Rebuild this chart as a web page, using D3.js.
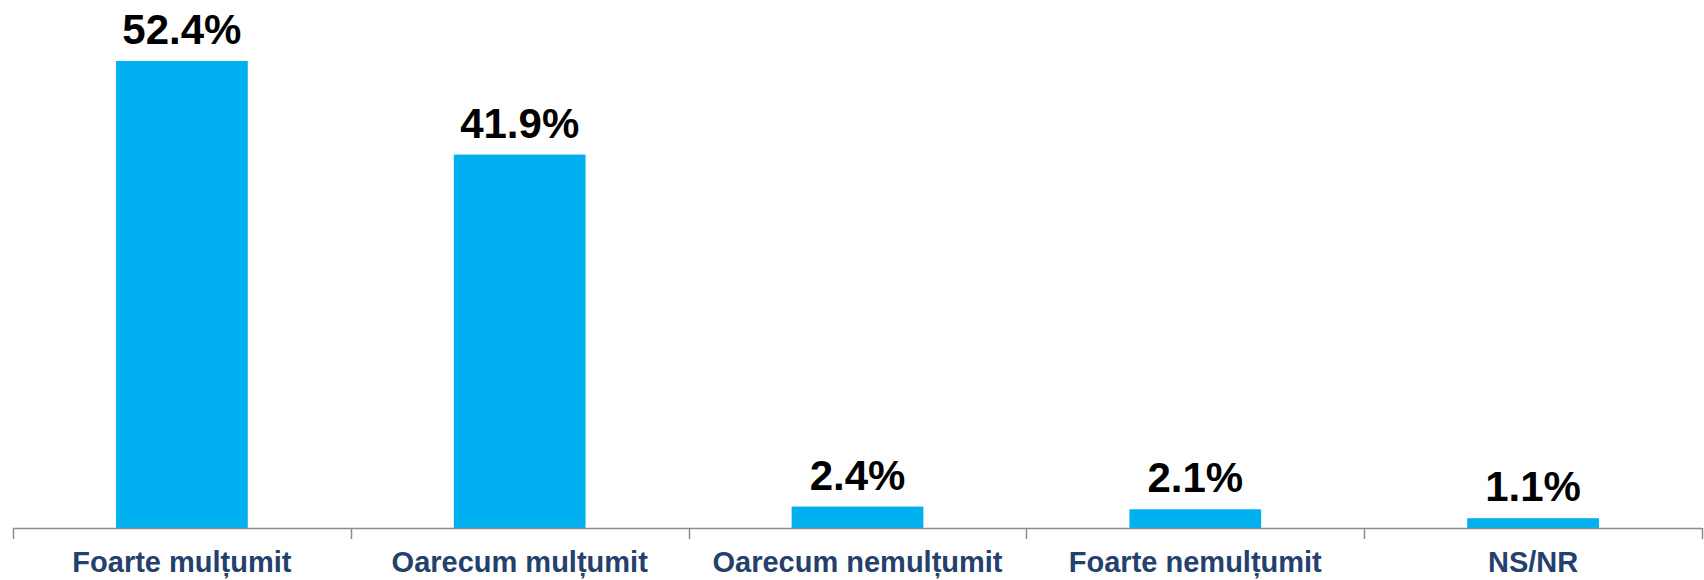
<!DOCTYPE html>
<meta charset="utf-8">
<script src="https://d3js.org/d3.v7.min.js"></script>
<style>
    body { margin: 0; background: #fff; }
    text { font-family: "Liberation Sans", Arial, sans-serif; font-weight: bold; }
</style>
<div id="vis"></div>
<script>
    // data
    var categories = ["Foarte mulțumit", "Oarecum mulțumit", "Oarecum nemulțumit", "Foarte nemulțumit", "NS/NR"];
    var values = [52.4, 41.9, 2.4, 2.1, 1.1];
    var valueLabels = ["52.4%", "41.9%", "2.4%", "2.1%", "1.1%"];

    var wid = 1704, hgt = 580;
    var mgn = { lft: 13, rgt: 2, top: 61, base: 528 };

    var svg = d3.select("#vis")
        .append("svg")
        .attr("width", wid)
        .attr("height", hgt);

    var x = d3.scaleBand()
        .domain(categories)
        .range([mgn.lft, wid - mgn.rgt])
        .padding(0);

    var y = d3.scaleLinear()
        .domain([0, d3.max(values)])
        .range([mgn.base, mgn.top]);

    var barW = x.bandwidth() * 0.39;

    // bars
    svg.append("g")
        .selectAll("rect")
        .data(values)
        .enter()
        .append("rect")
        .attr("x", function (d, i) { return x(categories[i]) + (x.bandwidth() - barW) / 2; })
        .attr("y", function (d) { return y(d); })
        .attr("width", barW)
        .attr("height", function (d) { return y(0) - y(d); })
        .style("fill", "#00b0f0");

    // value labels
    svg.append("g")
        .selectAll("text")
        .data(values)
        .enter()
        .append("text")
        .attr("x", function (d, i) { return x(categories[i]) + x.bandwidth() / 2; })
        .attr("y", function (d) { return y(d) - 17; })
        .attr("text-anchor", "middle")
        .style("font-size", "42px")
        .style("fill", "#000")
        .text(function (d, i) { return valueLabels[i]; });

    // axis line + ticks at band edges
    var axis = svg.append("g");
    axis.append("line")
        .attr("x1", mgn.lft).attr("x2", wid - mgn.rgt)
        .attr("y1", mgn.base + 0.5).attr("y2", mgn.base + 0.5)
        .attr("stroke", "#8c8c8c")
        .attr("stroke-width", 1.5);
    var edges = categories.map(function (c) { return x(c); }).concat([x(categories[categories.length - 1]) + x.bandwidth()]);
    axis.selectAll(".tk")
        .data(edges)
        .enter()
        .append("line")
        .attr("class", "tk")
        .attr("x1", function (d) { return Math.round(d) + 0.5; })
        .attr("x2", function (d) { return Math.round(d) + 0.5; })
        .attr("y1", mgn.base)
        .attr("y2", mgn.base + 11)
        .attr("stroke", "#8c8c8c")
        .attr("stroke-width", 1.5);

    // category labels
    axis.selectAll(".cat")
        .data(categories)
        .enter()
        .append("text")
        .attr("class", "cat")
        .attr("x", function (d) { return x(d) + x.bandwidth() / 2; })
        .attr("y", 572)
        .attr("text-anchor", "middle")
        .style("font-size", "29px")
        .style("fill", "#24406c")
        .text(function (d) { return d; });
</script>
